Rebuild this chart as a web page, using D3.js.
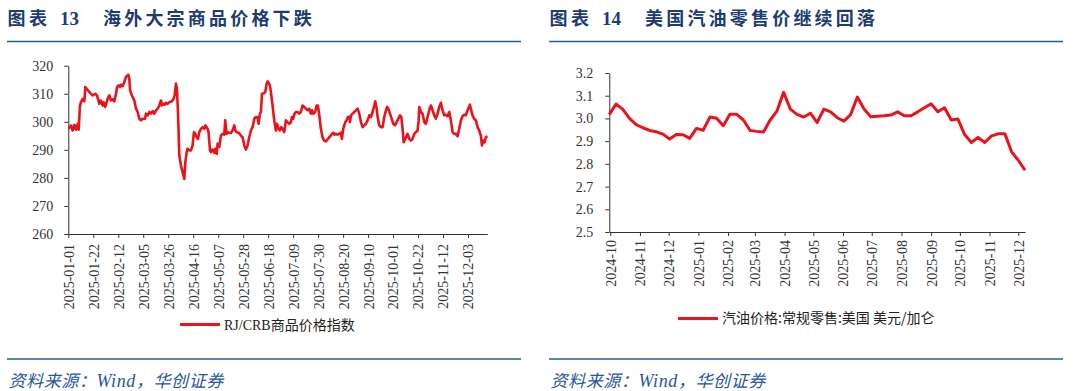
<!DOCTYPE html>
<html><head><meta charset="utf-8">
<script src="https://cdn.jsdelivr.net/npm/d3@7"></script>
<style>body{margin:0;background:#fff;overflow:hidden}</style>
</head><body><svg id="c" width="1080" height="391"></svg>
<script>
// ---------- Chart 13: RJ/CRB index (days since 2025-01-01) ----------
const crbTickLabels = ["2025-01-01","2025-01-22","2025-02-12","2025-03-05","2025-03-26","2025-04-16","2025-05-07","2025-05-28","2025-06-18","2025-07-09","2025-07-30","2025-08-20","2025-09-10","2025-10-01","2025-10-22","2025-11-12","2025-12-03"];
const crbYTicks = [260,270,280,290,300,310,320];
const crbDays = [0.3,2.3,3.7,5.1,6.5,7.9,8.7,9.8,10.7,12.1,13.5,14.3,15.4,17.7,20.5,22.7,24.1,26.1,27.2,28.9,29.7,31.1,33.1,34.5,35.9,37.3,38.7,40.1,41.0,42.3,43.5,44.3,45.7,47.1,48.5,50.4,51.3,51.9,53.5,55.5,56.9,58.3,59.7,61.1,62.5,64.5,65.3,66.7,68.1,69.5,70.9,72.3,73.7,75.1,76.5,77.9,78.7,79.9,81.0,82.1,83.5,84.9,87.1,88.3,89.4,90.5,91.3,92.2,93.3,94.7,96.1,97.5,98.4,99.5,100.3,101.7,103.1,104.5,105.6,106.8,107.9,109.0,110.1,111.5,112.9,114.3,115.2,117.1,117.9,119.1,119.9,121.3,122.7,123.5,124.7,125.5,126.9,128.3,129.7,131.1,131.9,133.1,133.9,135.3,136.7,138.1,139.5,140.4,141.5,143.2,145.1,146.5,147.9,149.3,150.7,152.1,153.5,154.9,156.3,157.7,159.1,160.0,161.1,161.9,162.8,164.7,165.6,166.7,167.5,168.4,169.5,170.3,171.7,173.1,174.5,175.4,176.8,177.9,179.0,180.1,181.5,182.9,184.3,185.7,187.1,188.0,189.1,190.2,191.3,192.7,194.1,195.5,196.9,198.3,199.7,201.1,202.5,203.9,204.8,205.9,207.6,208.7,209.8,211.0,212.3,213.7,215.1,216.5,217.9,219.3,220.7,221.6,222.7,223.8,224.9,226.3,227.7,229.1,230.0,231.1,232.8,233.9,235.0,236.2,236.8,237.6,239.0,240.4,241.8,243.2,244.6,246.0,247.4,248.8,250.2,251.6,253.0,254.4,255.8,257.2,258.0,259.2,260.0,261.4,262.8,264.2,265.6,267.0,267.9,269.0,270.4,271.8,273.2,274.6,276.0,277.4,278.8,279.9,281.0,281.9,283.3,284.4,285.2,286.6,288.0,289.4,290.8,292.2,293.6,294.5,295.0,296.4,297.8,299.2,300.6,302.0,303.4,304.8,306.2,307.6,309.0,310.4,311.8,313.2,314.6,316.0,317.4,318.8,320.2,321.6,323.0,324.4,325.8,327.2,328.6,330.0,331.4,332.8,334.2,335.1,336.2,337.6,338.7,339.8,341.2,342.6,344.0,345.4,346.8,347.7,348.8,349.9,351.0,352.2];
const crbValues = [297.5,298.7,296.9,298.9,297.2,299.3,297.2,305.8,307.0,308.2,307.3,312.4,311.8,310.6,309.4,310.0,309.4,306.4,307.6,305.8,307.0,305.3,308.2,309.4,307.6,308.0,307.3,310.0,312.4,313.0,312.4,313.2,312.7,314.2,316.0,316.8,315.4,311.2,309.4,307.6,304.7,303.5,301.1,300.5,301.1,301.1,302.9,302.3,303.5,302.9,303.8,302.9,304.1,304.7,305.8,307.6,305.8,306.4,306.1,306.8,306.4,307.0,307.3,308.0,309.4,313.6,311.8,303.5,288.0,284.4,282.0,279.6,285.6,289.2,290.4,289.8,289.8,291.6,296.3,295.7,294.5,293.9,296.3,297.5,298.1,297.5,298.7,297.5,296.3,289.8,289.2,290.1,288.9,290.4,288.6,292.2,291.0,295.1,295.7,295.4,300.5,295.7,296.3,296.1,296.0,296.9,298.7,296.9,296.3,296.1,295.1,294.5,291.6,290.1,291.6,294.5,296.9,298.1,301.1,301.7,301.7,299.3,302.9,303.5,310.0,310.2,310.6,313.6,314.4,313.9,313.0,310.6,305.8,300.5,296.9,299.3,297.5,296.9,298.1,297.5,296.3,300.5,299.9,299.3,299.9,301.7,301.1,302.9,303.5,303.5,302.9,303.5,305.8,305.3,304.7,304.1,304.7,302.9,304.1,302.9,303.5,305.8,305.8,302.3,297.5,294.5,293.3,293.0,293.7,294.5,295.1,295.7,296.1,295.4,295.7,295.4,295.7,296.1,293.9,297.5,299.9,300.5,301.7,301.7,299.9,302.3,302.9,303.5,304.1,304.7,302.9,299.9,298.1,298.7,299.3,300.5,302.3,301.7,303.5,305.8,307.3,304.7,301.7,298.7,298.1,298.1,301.7,304.1,305.3,304.7,302.9,301.1,299.3,298.7,299.9,301.1,302.3,301.7,297.5,292.7,293.9,295.1,295.7,293.9,293.3,293.9,295.7,296.3,296.9,300.5,305.3,303.5,302.9,299.9,299.3,301.7,304.1,305.8,304.1,302.3,301.1,302.9,305.3,306.8,304.1,302.3,302.5,302.0,303.5,300.5,296.3,295.7,295.7,294.9,297.5,300.5,302.0,302.5,302.3,303.5,304.7,306.1,304.1,302.3,301.1,300.5,298.1,296.9,295.1,291.6,293.3,292.7,294.5,294.9];

// ---------- Chart 14: US regular gasoline retail price (USD/gal, weekly) ----------
const gasTickLabels = ["2024-10","2024-11","2024-12","2025-01","2025-02","2025-03","2025-04","2025-05","2025-06","2025-07","2025-08","2025-09","2025-10","2025-11","2025-12"];
const gasYTicks = [2.5,2.6,2.7,2.8,2.9,3.0,3.1,3.2];
const gasDates = ["2024-09-30","2024-10-07","2024-10-14","2024-10-21","2024-10-28","2024-11-04","2024-11-11","2024-11-18","2024-11-25","2024-12-02","2024-12-09","2024-12-16","2024-12-23","2024-12-30","2025-01-06","2025-01-13","2025-01-20","2025-01-27","2025-02-03","2025-02-10","2025-02-17","2025-02-24","2025-03-03","2025-03-10","2025-03-17","2025-03-24","2025-03-31","2025-04-07","2025-04-14","2025-04-21","2025-04-28","2025-05-05","2025-05-12","2025-05-19","2025-05-26","2025-06-02","2025-06-09","2025-06-16","2025-06-23","2025-06-30","2025-07-07","2025-07-14","2025-07-21","2025-07-28","2025-08-04","2025-08-11","2025-08-18","2025-08-25","2025-09-01","2025-09-08","2025-09-15","2025-09-22","2025-09-29","2025-10-06","2025-10-13","2025-10-20","2025-10-27","2025-11-03","2025-11-10","2025-11-17","2025-11-24","2025-12-01","2025-12-08"];
const gasValues = [3.018,3.063,3.041,3.000,2.973,2.959,2.947,2.941,2.931,2.909,2.929,2.928,2.912,2.956,2.948,3.006,3.001,2.968,3.018,3.018,2.993,2.947,2.943,2.940,2.993,3.032,3.115,3.041,3.018,3.006,3.023,2.982,3.041,3.029,3.003,2.988,3.017,3.094,3.041,3.007,3.010,3.012,3.015,3.029,3.012,3.012,3.029,3.047,3.064,3.029,3.047,2.993,2.997,2.929,2.894,2.916,2.894,2.923,2.932,2.932,2.853,2.816,2.772];

const svg = d3.select("#c");
const NAVY = "#1d3c72", RULE = "#2a58a2", RED = "#e8131b", AX = "#333";
const SERIF = "'Liberation Serif','Times New Roman',serif";
const CJK = "'Liberation Serif','Noto Sans CJK SC',serif";

function header(x0, num, title, x1) {
  svg.append("text").attr("x", x0 + 0.6).attr("y", 25).attr("fill", NAVY)
    .attr("font-family", "'Noto Sans CJK SC'").attr("font-weight", 700)
    .attr("font-size", 18).attr("letter-spacing", 3.5).text("图表");
  svg.append("text").attr("x", x0 + 53).attr("y", 25).attr("fill", NAVY)
    .attr("font-family", SERIF).attr("font-weight", 700)
    .attr("font-size", 19).text(num);
  svg.append("text").attr("x", x0 + 96).attr("y", 25).attr("fill", NAVY)
    .attr("font-family", "'Noto Sans CJK SC'").attr("font-weight", 700)
    .attr("font-size", 18).attr("letter-spacing", 3.2).text(title);
  svg.append("line").attr("x1", x0).attr("x2", x1).attr("y1", 41.5).attr("y2", 41.5)
    .attr("stroke", RULE).attr("stroke-width", 1.5);
  svg.append("line").attr("x1", x0).attr("x2", x1).attr("y1", 359).attr("y2", 359)
    .attr("stroke", RULE).attr("stroke-width", 1.5);
  const s = svg.append("text").attr("x", x0 + 1.5).attr("y", 387).attr("fill", "#2a55a0")
    .attr("font-family", "'Noto Sans CJK SC'").attr("font-style", "italic")
    .attr("font-size", 17).attr("letter-spacing", 0.6);
  s.append("tspan").text("资料来源：");
  s.append("tspan").attr("font-family", SERIF).attr("font-size", 18).text("Wind");
  s.append("tspan").text("，华创证券");
}

function styleAxis(g) {
  g.selectAll("path,line").attr("stroke", AX).attr("stroke-width", 1);
  g.selectAll("text").attr("fill", AX).attr("font-family", SERIF).attr("font-size", 14);
}

// ---------- Left chart ----------
header(7, "13", "海外大宗商品价格下跌", 521);
const t0 = new Date(2025, 0, 1);
const crbDate = d => new Date(t0.getTime() + d * 86400000);
const xL = d3.scaleTime().domain([t0, crbDate(352.2)]).range([68.3, 487.3]);
const yL = d3.scaleLinear().domain([260, 320]).range([234, 65.7]);
const parseDay = d3.timeParse("%Y-%m-%d");

const gyL = svg.append("g").attr("transform", "translate(68.3,0)")
  .call(d3.axisLeft(yL).tickValues(crbYTicks).tickSize(4).tickSizeOuter(0).tickPadding(11).tickFormat(d3.format("d")));
styleAxis(gyL);
const gxL = svg.append("g").attr("transform", "translate(0,234)")
  .call(d3.axisBottom(xL).tickValues(crbTickLabels.map(parseDay)).tickSize(4).tickSizeOuter(0)
    .tickFormat(d3.timeFormat("%Y-%m-%d")));
styleAxis(gxL);
gxL.selectAll("text").attr("transform", "rotate(-90)").attr("text-anchor", "end")
  .attr("x", -10).attr("y", 0).attr("dy", "0.35em");

const crbData = crbDays.map((d, i) => ({ date: crbDate(d), v: crbValues[i] }));
svg.append("path").datum(crbData)
  .attr("d", d3.line().x(d => xL(d.date)).y(d => yL(d.v)))
  .attr("fill", "none").attr("stroke", RED).attr("stroke-width", 2.6)
  .attr("stroke-linejoin", "round");

svg.append("line").attr("x1", 180).attr("x2", 220).attr("y1", 324.6).attr("y2", 324.6)
  .attr("stroke", RED).attr("stroke-width", 3);
svg.append("text").attr("x", 224).attr("y", 329.5).attr("fill", "#222")
  .attr("font-family", CJK).attr("font-size", 14).text("RJ/CRB商品价格指数");

// ---------- Right chart ----------
header(549, "14", "美国汽油零售价继续回落", 1063);
const gasData = gasDates.map((d, i) => ({ date: parseDay(d), v: gasValues[i] }));
const xR = d3.scaleTime().domain(d3.extent(gasData, d => d.date)).range([609.3, 1025]);
const yR = d3.scaleLinear().domain([2.5, 3.2]).range([232, 73]);
const parseMonth = d3.timeParse("%Y-%m");

const gyR = svg.append("g").attr("transform", "translate(609.3,0)")
  .call(d3.axisLeft(yR).tickValues(gasYTicks).tickSize(4).tickSizeOuter(0).tickPadding(12).tickFormat(d3.format(".1f")));
styleAxis(gyR);
const gxR = svg.append("g").attr("transform", "translate(0,232)")
  .call(d3.axisBottom(xR).tickValues(gasTickLabels.map(parseMonth)).tickSize(4).tickSizeOuter(0)
    .tickFormat(d3.timeFormat("%Y-%m")));
styleAxis(gxR);
gxR.selectAll("text").attr("transform", "rotate(-90)").attr("text-anchor", "end")
  .attr("x", -8).attr("y", 0).attr("dy", "0.35em");

svg.append("path").datum(gasData)
  .attr("d", d3.line().x(d => xR(d.date)).y(d => yR(d.v)))
  .attr("fill", "none").attr("stroke", RED).attr("stroke-width", 3)
  .attr("stroke-linejoin", "round");

svg.append("line").attr("x1", 678).attr("x2", 718).attr("y1", 318.4).attr("y2", 318.4)
  .attr("stroke", RED).attr("stroke-width", 3);
svg.append("text").attr("x", 722).attr("y", 323.3).attr("fill", "#222")
  .attr("font-family", "'Noto Sans CJK SC'").attr("font-size", 14).text("汽油价格:常规零售:美国 美元/加仑");
</script></body></html>
